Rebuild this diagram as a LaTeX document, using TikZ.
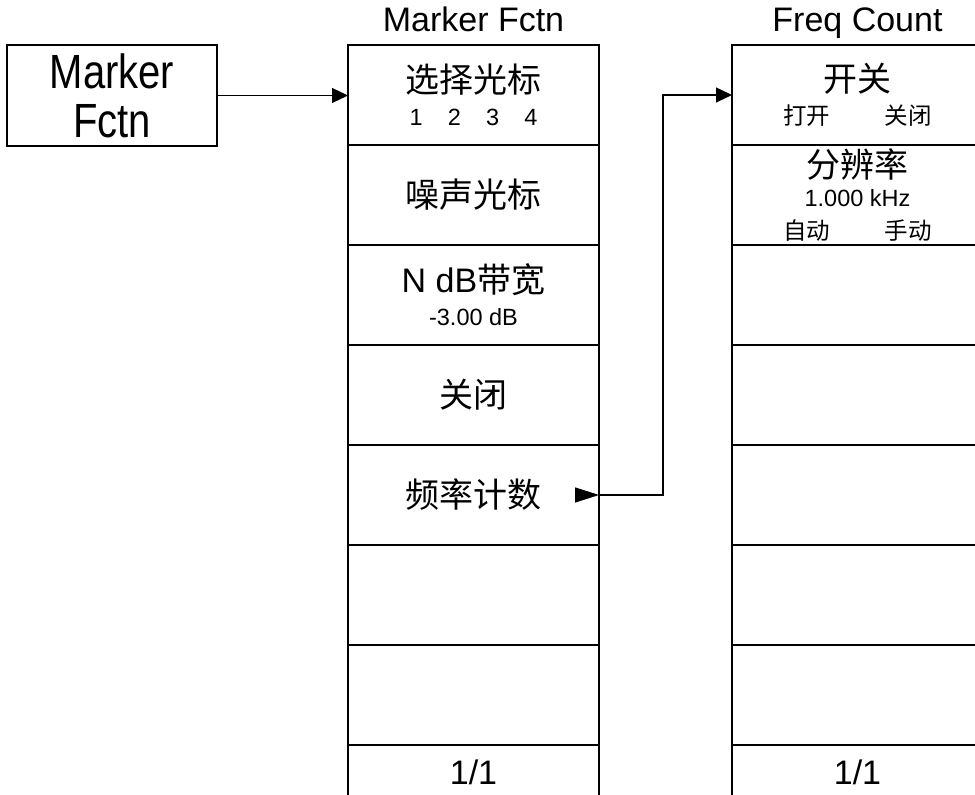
\documentclass[tikz,border=0pt]{standalone}
\usepackage{fontspec}
\setmainfont{Liberation Sans}
\newfontfamily\cjk{Noto Sans CJK SC}
\usepackage{graphicx}
\usetikzlibrary{positioning,arrows.meta}
\newcommand\bigtext{\fontsize{17}{20}\selectfont}
\newcommand\smalltext{\fontsize{11.75}{14}\selectfont}
\tikzset{
  menu-key/.style={draw,line width=0.6pt,minimum width=125.5pt,
    minimum height=50pt,inner sep=0pt,outer sep=0pt,align=center,font=\bigtext},
  menu-page/.style={menu-key,minimum height=27pt},
  menu-title/.style={inner sep=0pt,font=\bigtext},
  hard-key/.style={draw,line width=0.6pt,minimum width=105pt,minimum height=50.5pt,
    inner sep=0pt,outer sep=0pt,align=center,font=\fontsize{20}{24.5}\selectfont},
  arrow/.style={-{Triangle[length=8pt,width=7.5pt]},line width=0.6pt},
  arrow-tail/.style={-{Triangle[length=12pt,width=7.5pt]},line width=0.6pt},
}

\begin{document}
\begin{tikzpicture}[x=0.5pt,y=-0.5pt]
  \useasboundingbox (0,0) rectangle (975,795);
  % hard key
  \node[hard-key] (mk-btn) at (112,95.5)
    {\scalebox{1}[1.2]{Marker}\\\scalebox{1}[1.2]{Fctn}};

  % Marker Fctn menu
  \node[menu-key] (c1-1) at (473.5,95)
    {{\cjk 选择光标}\\[-3.25pt]{\smalltext 1\hspace{1.07em}2\hspace{1.07em}3\hspace{1.07em}4}};
  \node[menu-key,below=0pt of c1-1] (c1-2) {{\cjk 噪声光标}};
  \node[menu-key,below=0pt of c1-2] (c1-3) {N dB{\cjk 带宽}\\[-3.5pt]{\smalltext -3.00 dB}};
  \node[menu-key,below=0pt of c1-3] (c1-4) {{\cjk 关闭}};
  \node[menu-key,below=0pt of c1-4] (c1-5) {{\cjk 频率计数}};
  \node[menu-key,below=0pt of c1-5] (c1-6) {};
  \node[menu-key,below=0pt of c1-6] (c1-7) {};
  \node[menu-page,below=0pt of c1-7] (c1-page) {1/1};
  \node[menu-title,above=6.5pt of c1-1,anchor=base] (c1-title) {Marker Fctn};

  % Freq Count menu
  \node[menu-key] (c2-1) at (857.5,95)
    {{\cjk 开关}\\[-3.25pt]{\smalltext\cjk 打开\hspace{2.3em}关闭}};
  \node[menu-key,below=0pt of c2-1] (c2-2)
    {{\cjk 分辨率}\\[-5.5pt]{\smalltext 1.000 kHz}\\[-3.5pt]{\smalltext\cjk 自动\hspace{2.3em}手动}};
  \node[menu-key,below=0pt of c2-2] (c2-3) {};
  \node[menu-key,below=0pt of c2-3] (c2-4) {};
  \node[menu-key,below=0pt of c2-4] (c2-5) {};
  \node[menu-key,below=0pt of c2-5] (c2-6) {};
  \node[menu-key,below=0pt of c2-6] (c2-7) {};
  \node[menu-page,below=0pt of c2-7] (c2-page) {1/1};
  \node[menu-title,above=6.5pt of c2-1,anchor=base] (c2-title) {Freq Count};

  \coordinate (fc-tail) at ([xshift=-12pt]c1-5.east);
  \draw[arrow] (mk-btn.east) -- (mk-btn.east -| c1-1.west);
  \draw[arrow-tail] (fc-tail) -- (c1-5.east);
  \draw[arrow] (c1-5.east) -- ++(64,0) |- (c2-1.west);
\end{tikzpicture}
\end{document}
